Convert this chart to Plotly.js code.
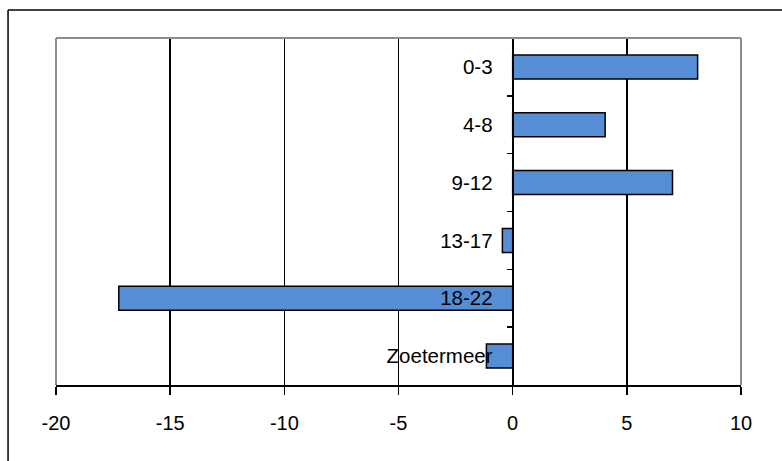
<!DOCTYPE html>
<html>
<head>
<meta charset="utf-8">
<script src="https://cdn.plot.ly/plotly-3.0.1.min.js"></script>
<style>
  body { margin: 0; background: #fff; }
  #plot { width: 782px; height: 461px; }
</style>
</head>
<body>
<div id="plot"></div>
<script>
// age groups, top to bottom
let groups = ["0-3", "4-8", "9-12", "13-17", "18-22", "Zoetermeer"];
let values = [8.1, 4.05, 7.0, -0.45, -17.25, -1.15];
let xTicks = [-20, -15, -10, -5, 0, 5, 10];

let fontFamily = "Liberation Sans, Arial, sans-serif";

let trace = {
    type: "bar",
    orientation: "h",
    x: values,
    y: groups,
    marker: { color: "#558ED5", line: { color: "#000", width: 1.5 } },
    hoverinfo: "x+y"
};

// grey frame on three sides of the plot area, black frame round the chart
let grey = { color: "#8c8c8c", width: 2 };
let black = { color: "#000", width: 1.5 };
let shapes = [
    { type: "line", xref: "paper", yref: "paper", x0: 0, x1: 1, y0: 1, y1: 1, line: grey, layer: "above" },
    { type: "line", xref: "paper", yref: "paper", x0: 0, x1: 0, y0: 0, y1: 1, line: grey, layer: "above" },
    { type: "line", xref: "paper", yref: "paper", x0: 1, x1: 1, y0: 0, y1: 1, line: grey, layer: "above" },
    { type: "line", xref: "paper", yref: "paper", x0: -0.07, x1: -0.07, y0: -0.3, y1: 1.081, line: black },
    { type: "line", xref: "paper", yref: "paper", x0: -0.07, x1: 1.1, y0: 1.081, y1: 1.081, line: black }
];

let layout = {
    width: 782,
    height: 461,
    margin: { l: 56, r: 41, t: 38, b: 76 },
    paper_bgcolor: "#fff",
    plot_bgcolor: "#fff",
    showlegend: false,
    bargap: 0.585,
    font: { family: fontFamily, size: 20, color: "#000" },
    xaxis: {
        range: [-20, 10],
        tickvals: xTicks,
        ticktext: xTicks.map(String),
        showgrid: true,
        gridcolor: "#000",
        gridwidth: 1.5,
        zeroline: false,
        showline: true,
        linecolor: "#000",
        linewidth: 2,
        ticks: "outside",
        ticklen: 8,
        tickwidth: 1.5,
        tickcolor: "#000",
        ticklabelstandoff: 11,
        tickfont: { family: fontFamily, size: 20, color: "#000" },
        fixedrange: true
    },
    yaxis: {
        type: "category",
        autorange: "reversed",
        anchor: "free",
        position: 2 / 3,
        showgrid: false,
        zeroline: false,
        showline: true,
        linecolor: "#000",
        linewidth: 2,
        ticks: "outside",
        tickson: "boundaries",
        ticklen: 5,
        tickwidth: 1.5,
        tickcolor: "#000",
        ticklabelstandoff: 15,
        tickfont: { family: fontFamily, size: 20.5, color: "#000" },
        fixedrange: true
    },
    shapes: shapes
};

Plotly.newPlot("plot", [trace], layout, { displayModeBar: false, staticPlot: true });
</script>
</body>
</html>
